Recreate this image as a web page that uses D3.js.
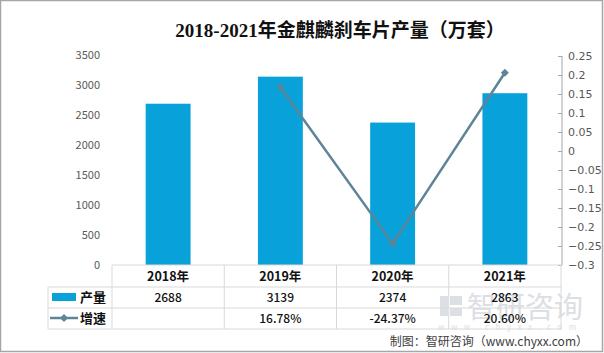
<!DOCTYPE html>
<html>
<head>
<meta charset="utf-8">
<script src="https://cdn.jsdelivr.net/npm/d3@7"></script>
<style>
  body { margin: 0; background: #fff; }
  svg { display: block; font-family: "Noto Sans CJK SC", "DejaVu Sans", sans-serif; }
</style>
</head>
<body>
<div id="chart"></div>
<script>
// data
const years = ['2018年', '2019年', '2020年', '2021年'];
const output = [2688, 3139, 2374, 2863];
const growth = [null, 0.1678, -0.2437, 0.2060];
const growthLabels = ['', '16.78%', '-24.37%', '20.60%'];
const leftTicks = [0, 500, 1000, 1500, 2000, 2500, 3000, 3500];
const rightTicks = [0.25, 0.2, 0.15, 0.1, 0.05, 0, -0.05, -0.1, -0.15, -0.2, -0.25, -0.3];

const width = 604, height = 353;
const barColor = '#09A1D9';
const lineColor = '#5E8498';
const gridColor = '#D9D9D9';

const svg = d3.select('#chart').append('svg')
    .attr('width', width)
    .attr('height', height);

// frame
svg.append('rect')
    .attr('x', 0.5).attr('y', 0.5)
    .attr('width', width - 2).attr('height', height - 2)
    .attr('fill', '#fff')
    .attr('stroke', '#A6A6A6')
    .attr('stroke-width', 1.5);

// title
svg.append('text')
    .attr('x', 340).attr('y', 37)
    .attr('text-anchor', 'middle')
    .attr('font-family', '"Liberation Serif", "Noto Sans CJK SC", serif')
    .attr('font-size', 19)
    .attr('font-weight', 'bold')
    .attr('fill', '#111')
    .text('2018-2021年金麒麟刹车片产量（万套）');

const x = d3.scaleBand().domain(years).range([112, 561]).paddingInner(0).paddingOuter(0);
const y = d3.scaleLinear().domain([0, 3500]).range([265, 55]);
const y2 = d3.scaleLinear().domain([-0.3, 0.25]).range([265, 56]);

// watermark (behind the chart marks)
const wm = svg.append('g').attr('fill', '#c5cad1').attr('opacity', 0.6);
wm.append('rect').attr('x', 440).attr('y', 296).attr('width', 8).attr('height', 20);
wm.append('rect').attr('x', 450).attr('y', 296).attr('width', 12).attr('height', 9);
wm.append('rect').attr('x', 450).attr('y', 308).attr('width', 12).attr('height', 8);
wm.append('text').attr('x', 467).attr('y', 318).attr('font-size', 29).text('智研咨询');
wm.append('text').attr('x', 438).attr('y', 330).attr('font-size', 8)
    .attr('letter-spacing', 6.5).text('www.chyxx.com');

// left axis labels
svg.append('g').selectAll('text')
    .data(leftTicks).enter().append('text')
    .attr('x', 100)
    .attr('y', d => y(d) + 4)
    .attr('text-anchor', 'end')
    .attr('font-size', 11)
    .attr('fill', '#595959')
    .text(d => d);

// right axis
const rAxis = svg.append('g')
    .attr('transform', 'translate(562,0)')
    .call(d3.axisRight(y2).tickValues(rightTicks).tickSize(4).tickPadding(2)
        .tickFormat(d => d3.format('')(+d.toFixed(2))));
rAxis.select('.domain').attr('stroke', '#A6A6A6').attr('d', `M0,${y2(0.25)}V${y2(-0.3)}`);
rAxis.selectAll('.tick line').attr('stroke', '#A6A6A6').attr('x1', -4).attr('x2', 0);
rAxis.selectAll('.tick text')
    .attr('font-size', 11)
    .attr('font-family', '"DejaVu Sans", sans-serif')
    .attr('fill', '#595959');

// bars
const bw = x.bandwidth() * 0.4;
svg.append('g').selectAll('rect')
    .data(output).enter().append('rect')
    .attr('x', (d, i) => x(years[i]) + (x.bandwidth() - bw) / 2)
    .attr('y', d => y(d))
    .attr('width', bw)
    .attr('height', d => y(0) - y(d))
    .attr('fill', barColor);

// growth line
const pts = growth.map((g, i) => ({ i, g })).filter(d => d.g !== null);
const line = d3.line()
    .x(d => x(years[d.i]) + x.bandwidth() / 2)
    .y(d => y2(d.g));
svg.append('path')
    .datum(pts)
    .attr('d', line)
    .attr('fill', 'none')
    .attr('stroke', lineColor)
    .attr('stroke-width', 2.5);
svg.append('g').selectAll('path')
    .data(pts).enter().append('path')
    .attr('d', d3.symbol().type(d3.symbolDiamond2).size(40))
    .attr('transform', d => `translate(${x(years[d.i]) + x.bandwidth() / 2},${y2(d.g)})`)
    .attr('fill', lineColor);

// data table
const rows = [265, 287, 308, 329];
const tbl = svg.append('g');
tbl.append('line').attr('x1', 112).attr('x2', 561).attr('y1', rows[0]).attr('y2', rows[0])
    .attr('stroke', gridColor);
rows.slice(1).forEach(r => {
    tbl.append('line').attr('x1', 48).attr('x2', 561).attr('y1', r).attr('y2', r)
        .attr('stroke', gridColor);
});
tbl.append('line').attr('x1', 48).attr('x2', 48).attr('y1', rows[1]).attr('y2', rows[3])
    .attr('stroke', gridColor);
years.concat(['end']).forEach((yr, i) => {
    const xx = 112 + i * x.bandwidth();
    tbl.append('line').attr('x1', xx).attr('x2', xx).attr('y1', rows[0]).attr('y2', rows[3])
        .attr('stroke', gridColor);
});

// header
tbl.selectAll('.hdr').data(years).enter().append('text')
    .attr('x', d => x(d) + x.bandwidth() / 2)
    .attr('y', 281)
    .attr('text-anchor', 'middle')
    .attr('font-size', 12.5)
    .attr('font-weight', 'bold')
    .attr('fill', '#111')
    .text(d => d);
tbl.selectAll('.v1').data(output).enter().append('text')
    .attr('x', (d, i) => x(years[i]) + x.bandwidth() / 2)
    .attr('y', 302)
    .attr('text-anchor', 'middle')
    .attr('font-size', 12)
    .attr('font-weight', 500)
    .attr('fill', '#111')
    .text(d => d);
tbl.selectAll('.v2').data(growthLabels).enter().append('text')
    .attr('x', (d, i) => x(years[i]) + x.bandwidth() / 2)
    .attr('y', 323)
    .attr('text-anchor', 'middle')
    .attr('font-size', 12)
    .attr('font-weight', 500)
    .attr('fill', '#111')
    .text(d => d);

// legend keys
tbl.append('rect').attr('x', 52).attr('y', 293).attr('width', 24).attr('height', 8).attr('fill', barColor);
tbl.append('text').attr('x', 80).attr('y', 302).attr('font-size', 13).attr('font-weight', 'bold')
    .attr('fill', '#111').text('产量');
tbl.append('line').attr('x1', 50).attr('x2', 78).attr('y1', 318).attr('y2', 318)
    .attr('stroke', lineColor).attr('stroke-width', 2.5);
tbl.append('path').attr('d', d3.symbol().type(d3.symbolDiamond2).size(40))
    .attr('transform', 'translate(64,318)').attr('fill', lineColor);
tbl.append('text').attr('x', 80).attr('y', 323).attr('font-size', 13).attr('font-weight', 'bold')
    .attr('fill', '#111').text('增速');

// source
svg.append('text')
    .attr('x', 588).attr('y', 346)
    .attr('text-anchor', 'end')
    .attr('font-size', 12)
    .attr('fill', '#404040')
    .text('制图：智研咨询（www.chyxx.com）');
</script>
</body>
</html>
